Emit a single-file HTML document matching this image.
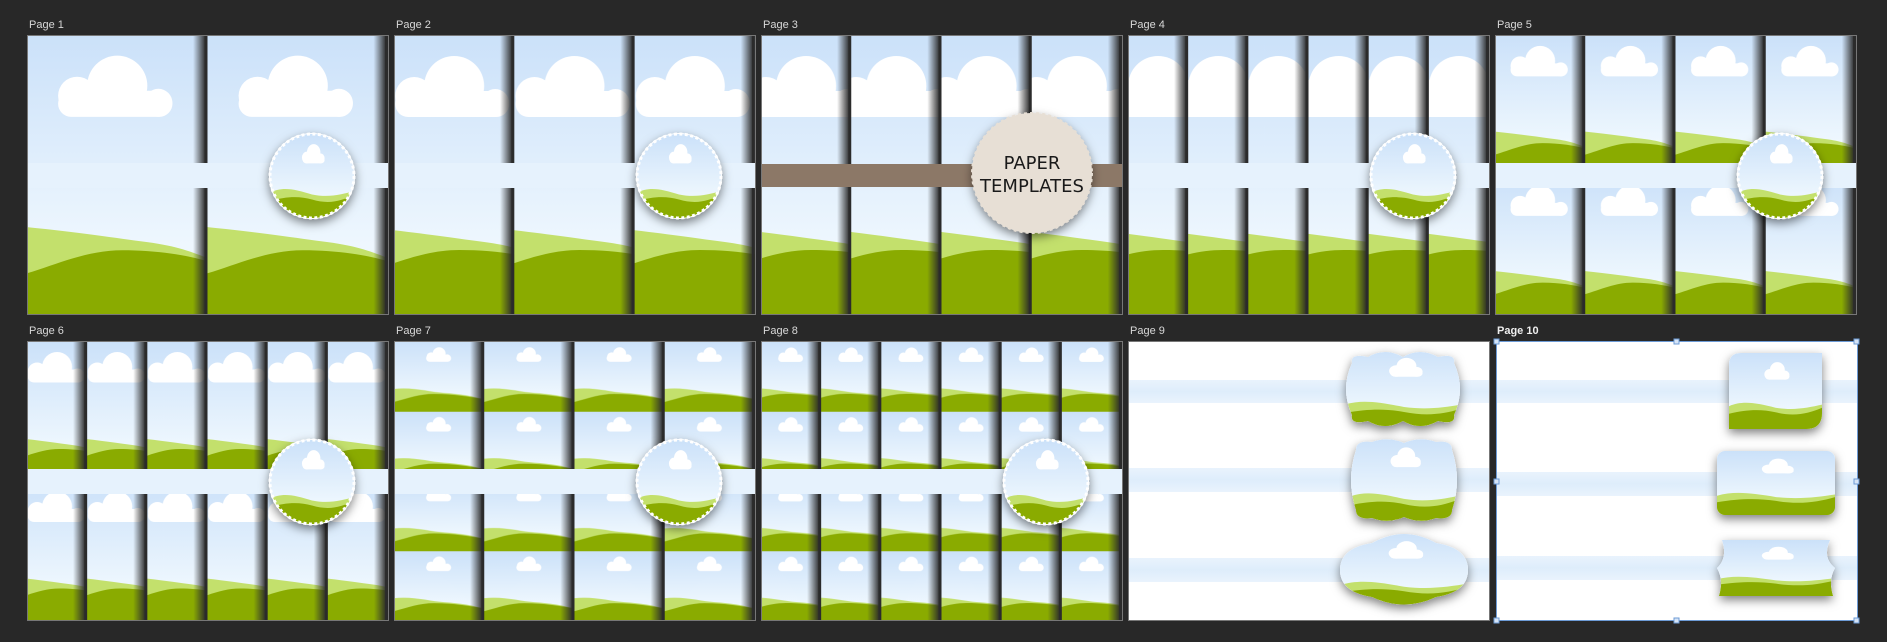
<!DOCTYPE html>
<html><head><meta charset="utf-8"><style>
html,body{margin:0;padding:0;background:#282828;}
body{width:1887px;height:642px;overflow:hidden;position:relative;font-family:"Liberation Sans",sans-serif;}
svg{position:absolute;left:0;top:0;}
</style></head><body>
<svg width="1887" height="642" viewBox="0 0 1887 642" xmlns="http://www.w3.org/2000/svg" xmlns:xlink="http://www.w3.org/1999/xlink">
<defs>
<linearGradient id="sky" x1="0" y1="0" x2="0" y2="1"><stop offset="0" stop-color="#cbe1f9"/><stop offset="0.75" stop-color="#eef7fe"/><stop offset="1" stop-color="#f2f9fe"/></linearGradient>
<linearGradient id="shd" x1="0" y1="0" x2="1" y2="0"><stop offset="0" stop-color="#333" stop-opacity="0"/><stop offset="1" stop-color="#2a2a2a" stop-opacity="0.95"/></linearGradient>
<linearGradient id="band" x1="0" y1="0" x2="0" y2="1"><stop offset="0" stop-color="#e9f3fd"/><stop offset="0.5" stop-color="#deedfb"/><stop offset="1" stop-color="#e9f3fd"/></linearGradient>
<filter id="ds" x="-30%" y="-30%" width="160%" height="160%"><feDropShadow dx="0" dy="4" stdDeviation="5" flood-color="#000" flood-opacity="0.5"/></filter>
<symbol id="scene" viewBox="0 0 180 279" preserveAspectRatio="xMidYMid slice">
<rect width="180" height="279" fill="url(#sky)"/>
<g fill="#fff"><circle cx="90" cy="50" r="30"/><circle cx="50" cy="60" r="19"/><circle cx="131" cy="67" r="14"/><rect x="31" y="55" width="114" height="26" rx="13"/></g>
<path d="M0 191 C50 196 90 202 120 206 C150 210 165 216 180 222 L180 279 L0 279Z" fill="#c3e06c"/>
<path d="M0 237 C30 228 60 214 95 214 C130 214 160 219 180 225 L180 279 L0 279Z" fill="#8aab00"/>
</symbol>
<symbol id="scene2" viewBox="0 0 90 70" preserveAspectRatio="xMidYMid slice">
<rect width="90" height="70" fill="url(#sky)"/>
<g fill="#fff"><circle cx="45" cy="12" r="6.5"/><circle cx="37" cy="15" r="4.5"/><circle cx="53" cy="16" r="3.5"/><rect x="32" y="13" width="25" height="7" rx="3.5"/></g>
<path d="M0 47 C20 45 35 50 50 51 C65 52 80 54 90 58 L90 70 L0 70Z" fill="#c3e06c"/>
<path d="M0 60 C15 56 25 52 40 52 C60 52 75 55 90 57 L90 70 L0 70Z" fill="#8aab00"/>
</symbol>
<symbol id="scene3" viewBox="0 0 100 100" preserveAspectRatio="none">
<rect width="100" height="100" fill="url(#sky)"/>
<g fill="#fff"><ellipse cx="52" cy="22" rx="8" ry="10"/><ellipse cx="44" cy="28" rx="6" ry="7"/><ellipse cx="60" cy="29" rx="5" ry="6"/><rect x="39" y="27" width="26" height="8" rx="4"/></g>
<path d="M0 70 C15 62 30 66 50 72 C70 76 85 72 100 68 L100 100 L0 100Z" fill="#c3e06c"/>
<path d="M0 80 C20 74 35 74 50 78 C70 84 85 80 100 72 L100 100 L0 100Z" fill="#8aab00"/>
</symbol>
<pattern id="p1" patternUnits="userSpaceOnUse" x="27" y="36" width="180.5" height="279"><use href="#scene" width="180.5" height="279"/><rect x="166" width="12" height="279" fill="url(#shd)"/><rect x="177.5" width="3" height="279" fill="#2b2b2b"/></pattern>
<pattern id="p2" patternUnits="userSpaceOnUse" x="394" y="36" width="120.33" height="279"><use href="#scene" width="120.33" height="279"/><rect x="106" width="12" height="279" fill="url(#shd)"/><rect x="117.3" width="3" height="279" fill="#2b2b2b"/></pattern>
<pattern id="p3" patternUnits="userSpaceOnUse" x="761" y="36" width="90.25" height="279"><use href="#scene" width="90.25" height="279"/><rect x="76" width="12" height="279" fill="url(#shd)"/><rect x="87.3" width="3" height="279" fill="#2b2b2b"/></pattern>
<pattern id="p4" patternUnits="userSpaceOnUse" x="1128" y="36" width="60.17" height="279"><use href="#scene" width="60.17" height="279"/><rect x="46" width="12" height="279" fill="url(#shd)"/><rect x="57.2" width="3" height="279" fill="#2b2b2b"/></pattern>
<pattern id="p5" patternUnits="userSpaceOnUse" x="1495" y="36" width="90.25" height="139.5"><use href="#scene" width="90.25" height="139.5"/><rect x="76" width="12" height="139.5" fill="url(#shd)"/><rect x="87.3" width="3" height="139.5" fill="#2b2b2b"/></pattern>
<pattern id="p6" patternUnits="userSpaceOnUse" x="27" y="342" width="60.17" height="139.5"><use href="#scene" width="60.17" height="139.5"/><rect x="46" width="12" height="139.5" fill="url(#shd)"/><rect x="57.2" width="3" height="139.5" fill="#2b2b2b"/></pattern>
<pattern id="p7" patternUnits="userSpaceOnUse" x="394" y="342" width="90.25" height="69.75"><use href="#scene2" width="90.25" height="69.75"/><rect x="76" width="12" height="69.75" fill="url(#shd)"/><rect x="87.3" width="3" height="69.75" fill="#2b2b2b"/></pattern>
<pattern id="p8" patternUnits="userSpaceOnUse" x="761" y="342" width="60.17" height="69.75"><use href="#scene2" width="60.17" height="69.75"/><rect x="46" width="12" height="69.75" fill="url(#shd)"/><rect x="57.2" width="3" height="69.75" fill="#2b2b2b"/></pattern>
<clipPath id="cc"><circle cx="0" cy="0" r="42"/></clipPath>
<g id="stamp">
<circle r="43" fill="#fff" filter="url(#ds)"/>
<g clip-path="url(#cc)"><use href="#scene3" x="-42" y="-42" width="84" height="84"/></g>
<circle r="42" fill="none" stroke="#fff" stroke-width="3" stroke-dasharray="3 2.5"/>
</g>
</defs>

<g font-size="11" fill="#d8d8d8">
<text x="29" y="28">Page 1</text><text x="396" y="28">Page 2</text><text x="763" y="28">Page 3</text><text x="1130" y="28">Page 4</text><text x="1497" y="28">Page 5</text>
<text x="29" y="334">Page 6</text><text x="396" y="334">Page 7</text><text x="763" y="334">Page 8</text><text x="1130" y="334">Page 9</text><text x="1497" y="334" font-weight="bold" fill="#eee">Page 10</text>
</g>

<g stroke="#777" stroke-width="1">
<rect x="27.5" y="35.5" width="361" height="279" fill="url(#p1)"/>
<rect x="394.5" y="35.5" width="361" height="279" fill="url(#p2)"/>
<rect x="761.5" y="35.5" width="361" height="279" fill="url(#p3)"/>
<rect x="1128.5" y="35.5" width="361" height="279" fill="url(#p4)"/>
<rect x="1495.5" y="35.5" width="361" height="279" fill="url(#p5)"/>
<rect x="27.5" y="341.5" width="361" height="279" fill="url(#p6)"/>
<rect x="394.5" y="341.5" width="361" height="279" fill="url(#p7)"/>
<rect x="761.5" y="341.5" width="361" height="279" fill="url(#p8)"/>
<rect x="1128.5" y="341.5" width="361" height="279" fill="#fff"/>
</g>
<g fill="#e6f2fd">
<rect x="28" y="163" width="360" height="25"/>
<rect x="395" y="163" width="360" height="25"/>
<rect x="1129" y="163" width="360" height="25"/>
<rect x="1496" y="163" width="360" height="25"/>
<rect x="28" y="469" width="360" height="25"/>
<rect x="395" y="469" width="360" height="25"/>
<rect x="762" y="469" width="360" height="25"/>
</g>
<rect x="762" y="164" width="360" height="23" fill="#8c7867"/>

<use href="#stamp" x="312" y="176"/>
<use href="#stamp" x="679" y="176"/>
<use href="#stamp" x="1413" y="176"/>
<use href="#stamp" x="1780" y="176"/>
<use href="#stamp" x="312" y="482"/>
<use href="#stamp" x="679" y="482"/>
<use href="#stamp" x="1046" y="482"/>

<g transform="translate(1032,173)">
<circle r="60" fill="#e7dfd5" filter="url(#ds)"/>
<circle r="59" fill="none" stroke="#e7dfd5" stroke-width="4" stroke-dasharray="3 3"/>
<text x="0" y="-4" text-anchor="middle" font-family="'DejaVu Sans',sans-serif" font-size="18" fill="#1a1a1a">PAPER</text>
<text x="0" y="19" text-anchor="middle" font-family="'DejaVu Sans',sans-serif" font-size="18" fill="#1a1a1a">TEMPLATES</text>
</g>

<g fill="url(#band)">
<rect x="1129" y="380" width="360" height="23"/><rect x="1129" y="468" width="360" height="24"/><rect x="1129" y="558" width="360" height="24"/>
</g>
<clipPath id="f1"><path d="M1352 363 Q1350 353 1368 357 Q1385 347 1403 357 Q1420 347 1438 357 Q1456 353 1454 363 Q1466 389 1454 415 Q1456 425 1438 421 Q1420 431 1403 421 Q1385 431 1368 421 Q1350 425 1352 415 Q1340 389 1352 363Z"/></clipPath>
<clipPath id="f2"><path d="M1356 450 Q1356 440 1372 442 Q1388 436 1404 443 Q1420 436 1436 442 Q1452 440 1452 450 Q1462 480 1452 510 Q1452 520 1436 518 Q1420 524 1404 517 Q1388 524 1372 518 Q1356 520 1356 510 Q1346 480 1356 450Z"/></clipPath>
<clipPath id="f3"><path d="M1372 543 Q1404 525 1436 543 Q1468 548 1468 570 Q1468 592 1436 597 Q1404 612 1372 597 Q1340 592 1340 570 Q1340 548 1372 543Z"/></clipPath>
<path d="M1352 363 Q1350 353 1368 357 Q1385 347 1403 357 Q1420 347 1438 357 Q1456 353 1454 363 Q1466 389 1454 415 Q1456 425 1438 421 Q1420 431 1403 421 Q1385 431 1368 421 Q1350 425 1352 415 Q1340 389 1352 363Z" fill="#fff" filter="url(#ds)"/>
<g clip-path="url(#f1)"><use href="#scene3" x="1342" y="348" width="124" height="82"/></g>
<path d="M1356 450 Q1356 440 1372 442 Q1388 436 1404 443 Q1420 436 1436 442 Q1452 440 1452 450 Q1462 480 1452 510 Q1452 520 1436 518 Q1420 524 1404 517 Q1388 524 1372 518 Q1356 520 1356 510 Q1346 480 1356 450Z" fill="#fff" filter="url(#ds)"/>
<g clip-path="url(#f2)"><use href="#scene3" x="1348" y="437" width="112" height="86"/></g>
<path d="M1372 543 Q1404 525 1436 543 Q1468 548 1468 570 Q1468 592 1436 597 Q1404 612 1372 597 Q1340 592 1340 570 Q1340 548 1372 543Z" fill="#fff" filter="url(#ds)"/>
<g clip-path="url(#f3)"><use href="#scene3" x="1340" y="532" width="128" height="76"/></g>

<rect x="1496.5" y="341.5" width="361" height="279" fill="#fff" stroke="#6d9bd6"/>
<g fill="url(#band)">
<rect x="1497" y="380" width="360" height="23"/><rect x="1497" y="472" width="360" height="24"/><rect x="1497" y="556" width="360" height="24"/>
</g>
<clipPath id="g1"><path d="M1741 353 L1822 353 L1822 413 Q1822 429 1806 429 L1729 429 L1729 365 Q1729 353 1741 353Z"/></clipPath>
<clipPath id="g2"><rect x="1717" y="451" width="118" height="64" rx="8"/></clipPath>
<clipPath id="g3"><path d="M1722 540 L1830 540 Q1822 558 1835 568 Q1828 580 1833 596 L1719 596 Q1724 580 1717 568 Q1728 558 1722 540Z"/></clipPath>
<path d="M1741 353 L1822 353 L1822 413 Q1822 429 1806 429 L1729 429 L1729 365 Q1729 353 1741 353Z" fill="#fff" filter="url(#ds)"/>
<g clip-path="url(#g1)"><use href="#scene3" x="1729" y="353" width="93" height="76"/></g>
<rect x="1717" y="451" width="118" height="64" rx="8" fill="#fff" filter="url(#ds)"/>
<g clip-path="url(#g2)"><use href="#scene3" x="1717" y="451" width="118" height="64"/></g>
<path d="M1722 540 L1830 540 Q1822 558 1835 568 Q1828 580 1833 596 L1719 596 Q1724 580 1717 568 Q1728 558 1722 540Z" fill="#fff" filter="url(#ds)"/>
<g clip-path="url(#g3)"><use href="#scene3" x="1717" y="540" width="118" height="56"/></g>
<g fill="#d6e4f6" stroke="#6d9bd6" stroke-width="1">
<rect x="1494" y="339" width="5" height="5"/><rect x="1674" y="339" width="5" height="5"/><rect x="1854" y="339" width="5" height="5"/>
<rect x="1494" y="479" width="5" height="5"/><rect x="1854" y="479" width="5" height="5"/>
<rect x="1494" y="618" width="5" height="5"/><rect x="1674" y="618" width="5" height="5"/><rect x="1854" y="618" width="5" height="5"/>
</g>
</svg>
</body></html>
